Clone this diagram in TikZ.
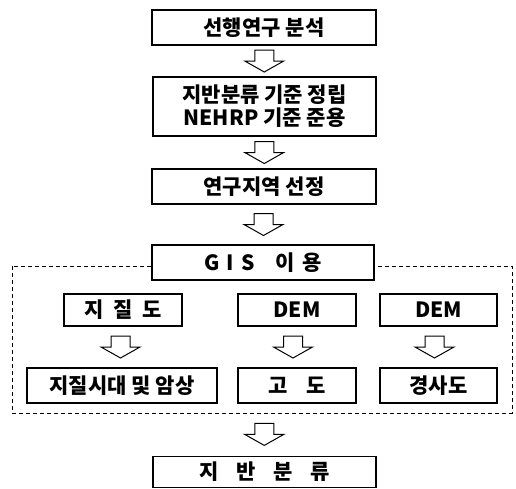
\documentclass[tikz,border=0pt]{standalone}
\usepackage{fontspec}
\setmainfont{Noto Sans CJK KR}
\usetikzlibrary{calc}
\begin{document}
\begin{tikzpicture}[x=1pt,y=-1pt,
  box/.style={draw,line width=1.4pt,fill=white,inner sep=0pt,align=center,
    font=\fontsize{21}{25}\selectfont\bfseries},
  dashedframe/.style={draw,line width=0.9pt,dash pattern=on 4pt off 3pt},
  blockarrow/.pic={\draw[line width=1pt,line join=miter,fill=white]
    (-9.5,-11) -- (9.5,-11) -- (9.5,0) -- (19.5,0) -- (0,11) -- (-19.5,0) -- (-9.5,0) -- cycle;}
]
\useasboundingbox (0,0) rectangle (516,488);

\draw[dashedframe] (12,266) rectangle (512,413);

\node[box,minimum width=224,minimum height=35] (b1) at (264,27.5) {선행연구 분석};
\node[box,minimum width=223,minimum height=59] (b2) at (264.5,106.5) {지반분류 기준 정립\\[-2pt]NEHRP 기준 준용};
\node[box,minimum width=224,minimum height=35] (b3) at (264,186.5) {연구지역 선정};
\node[box,minimum width=222,minimum height=35] (gis) at (263,262.5) {G\hspace{0.35em}I\hspace{0.35em}S\hspace{1em}이\hspace{0.35em}용};

\node[box,minimum width=118,minimum height=32] (geo) at (123,310) {지\hspace{0.45em}질\hspace{0.45em}도};
\node[box,minimum width=118,minimum height=32] (dem1) at (297,310) {DEM};
\node[box,minimum width=117,minimum height=32] (dem2) at (438.5,310) {DEM};

\node[box,minimum width=190,minimum height=35] (age) at (122,385.5) {지질시대 및 암상};
\node[box,minimum width=118,minimum height=35] (elev) at (297,385.5) {고\hspace{0.9em}도};
\node[box,minimum width=117,minimum height=35] (slope) at (438.5,385.5) {경사도};

\node[box,minimum width=223,minimum height=31] (fin) at (264.5,472) {지\hspace{0.85em}반\hspace{0.85em}분\hspace{0.85em}류};

\coordinate (frameb) at (264,413);

\pic at ($(b1.south)!0.5!(b2.north)$) {blockarrow};
\pic at ($(b2.south)!0.5!(b3.north)$) {blockarrow};
\pic at ($(b3.south)!0.5!(gis.north)$) {blockarrow};
\pic at ($(geo.south)!0.5!(age.north)+(-2,0)$) {blockarrow};
\pic at ($(dem1.south)!0.5!(elev.north)+(-4,0)$) {blockarrow};
\pic at ($(dem2.south)!0.5!(slope.north)+(-4,0)$) {blockarrow};
\pic at ($(frameb)!0.5!(fin.north)$) {blockarrow};
\end{tikzpicture}
\end{document}
